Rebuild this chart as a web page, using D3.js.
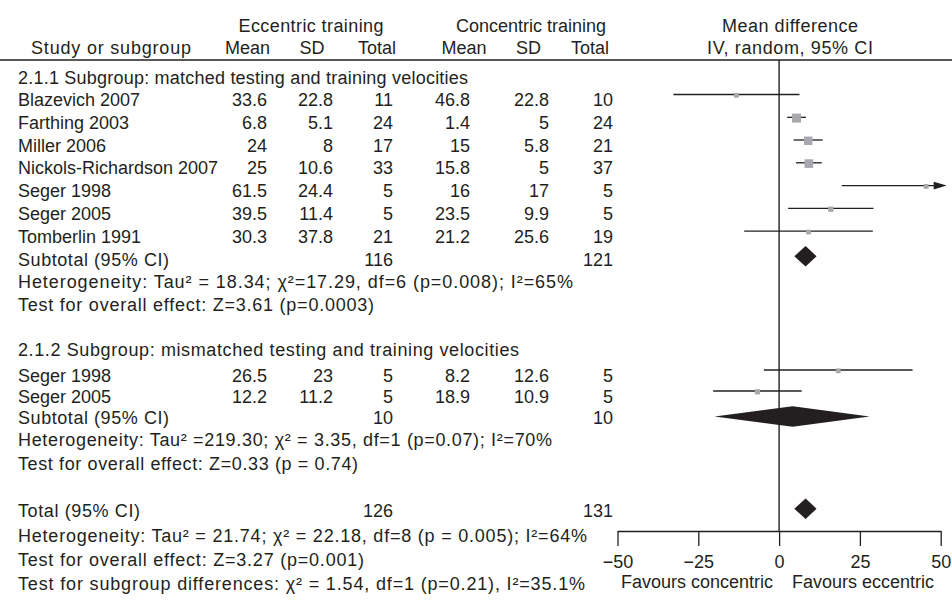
<!DOCTYPE html>
<html><head><meta charset="utf-8">
<script src="https://cdn.jsdelivr.net/npm/d3@7"></script>
<style>
html,body{margin:0;padding:0;background:#fff;}
svg{display:block;}
text{font-family:"Liberation Sans",Arial,Helvetica,sans-serif;fill:#231f20;}
</style></head><body>
<svg id="chart" width="952" height="608"></svg>
<script>
// ---------- DATA ----------
const groupTitles = ["2.1.1 Subgroup: matched testing and training velocities",
                     "2.1.2 Subgroup: mismatched testing and training velocities"];
const studyNames = ["Blazevich 2007","Farthing 2003","Miller 2006","Nickols-Richardson 2007",
                    "Seger 1998","Seger 2005","Tomberlin 1991","Seger 1998","Seger 2005"];
const studyGroup = [0,0,0,0,0,0,0,1,1];
const eccMean = [33.6,6.8,24,25,61.5,39.5,30.3,26.5,12.2];
const eccSD   = [22.8,5.1,8,10.6,24.4,11.4,37.8,23,11.2];
const eccN    = [11,24,17,33,5,5,21,5,5];
const conMean = [46.8,1.4,15,15.8,16,23.5,21.2,8.2,18.9];
const conSD   = [22.8,5,5.8,5,17,9.9,25.6,12.6,10.9];
const conN    = [10,24,21,37,5,5,19,5,5];
const meanDiff = [-13.2,5.4,9.0,9.2,45.5,16.0,9.1,18.3,-6.7];
const ciLow    = [-32.7,2.5,4.5,5.2,19.4,2.8,-10.8,-4.7,-20.4];
const ciHigh   = [6.3,8.3,13.5,13.2,71.6,29.2,29.0,41.3,7.0];
const weightPct = [4.7,24.1,21.2,22.2,2.9,8.5,4.6,3.6,8.1];

const subtotalEccN = [116,10];
const subtotalConN = [121,10];
const subtotalEst  = [8.2,4.2];
const subtotalLow  = [4.7,-20.0];
const subtotalHigh = [11.6,28.0];
const heterogeneityText = [
  "Heterogeneity: Tau\u00B2 = 18.34; \u03C7\u00B2=17.29, df=6 (p=0.008); I\u00B2=65%",
  "Heterogeneity: Tau\u00B2 =219.30; \u03C7\u00B2 = 3.35, df=1 (p=0.07); I\u00B2=70%"];
const overallText = [
  "Test for overall effect: Z=3.61 (p=0.0003)",
  "Test for overall effect: Z=0.33 (p = 0.74)"];

const totalEccN = 126, totalConN = 131;
const totalEst = 8.2, totalLow = 4.7, totalHigh = 11.6;
const totalHetText = "Heterogeneity: Tau\u00B2 = 21.74; \u03C7\u00B2 = 22.18, df=8 (p = 0.005); I\u00B2=64%";
const totalOverallText = "Test for overall effect: Z=3.27 (p=0.001)";
const subgroupDiffText = "Test for subgroup differences: \u03C7\u00B2 = 1.54, df=1 (p=0.21), I\u00B2=35.1%";

const axisTicks = [-50,-25,0,25,50];
const axisDomain = [-50,50];
const favourLabels = ["Favours concentric","Favours eccentric"];

// ---------- LAYOUT ----------
const FS = 18;
const rowKeys = ["h1","h2","g0","s0","s1","s2","s3","s4","s5","s6","sub0","het0","z0",
                 "g1","s7","s8","sub1","het1","z1","tot","het2","z2","diff"];
const rowPos  = [25,47,77,99.5,122.3,145,167.8,190.6,213.4,236.2,259,281.5,304,
                 349,375,396,417,439.5,463,510,535,559.5,583];
const yRow = d3.scaleOrdinal().domain(rowKeys).range(rowPos);
const base = k => yRow(k) + 6.5;

const x = d3.scaleLinear().domain(axisDomain).range([617.5, 940.7]);
const sizeScale = d3.scaleSqrt().domain([0, 24.1]).range([0, 9]);

const colX = {eM:267, eSD:333, eN:393, cM:470, cSD:549, cN:613};

const svg = d3.select("#chart");
const g = svg.append("g").style("font-size", FS + "px");

function txt(xp, key, s, anchor, len) {
  const t = g.append("text").attr("x", xp).attr("y", base(key))
    .attr("text-anchor", anchor || "start").text(s);
  if (len) t.attr("textLength", len).attr("lengthAdjust", "spacing");
  return t;
}

// Headers
txt(311, "h1", "Eccentric training", "middle", 145);
txt(531, "h1", "Concentric training", "middle", 150);
txt(790, "h1", "Mean difference", "middle", 136);
txt(31, "h2", "Study or subgroup", "start", 160);
txt(247.5, "h2", "Mean", "middle");
txt(312, "h2", "SD", "middle");
txt(377, "h2", "Total", "middle");
txt(464, "h2", "Mean", "middle");
txt(528.5, "h2", "SD", "middle");
txt(590, "h2", "Total", "middle");
txt(790, "h2", "IV, random, 95% CI", "middle", 166);

g.append("line").attr("x1", 0).attr("x2", 952).attr("y1", 60).attr("y2", 60)
  .attr("stroke", "#231f20").attr("stroke-width", 1.6);

// zero line
g.append("line").attr("x1", x(0)).attr("x2", x(0)).attr("y1", 60).attr("y2", 531)
  .attr("stroke", "#231f20").attr("stroke-width", 1.4);

// group titles
txt(18, "g0", groupTitles[0], "start", 450);
txt(18, "g1", groupTitles[1], "start", 501);

// study rows
studyNames.forEach((name, i) => {
  const k = "s" + i;
  txt(18, k, name);
  txt(colX.eM, k, String(eccMean[i]), "end");
  txt(colX.eSD, k, String(eccSD[i]), "end");
  txt(colX.eN, k, String(eccN[i]), "end");
  txt(colX.cM, k, String(conMean[i]), "end");
  txt(colX.cSD, k, String(conSD[i]), "end");
  txt(colX.cN, k, String(conN[i]), "end");

  const ym = yRow(k) - 5;
  const lo = Math.max(ciLow[i], axisDomain[0]);
  const hi = Math.min(ciHigh[i], axisDomain[1]);
  g.append("line").attr("x1", x(lo)).attr("x2", x(hi)).attr("y1", ym).attr("y2", ym)
    .attr("stroke", "#231f20").attr("stroke-width", 1.3);
  if (ciHigh[i] > axisDomain[1]) {
    const xe = x(axisDomain[1]);
    g.append("path").attr("d", `M${xe-7},${ym-3.8}L${xe+6},${ym}L${xe-7},${ym+3.8}Z`)
      .attr("fill", "#231f20");
  }
  const s = Math.max(4.8, sizeScale(weightPct[i]));
  const cx = Math.min(x(meanDiff[i]), x(axisDomain[1]) - 12);
  g.append("rect").attr("x", cx - s/2).attr("y", ym - s/2 + 0.8)
    .attr("width", s).attr("height", s).attr("fill", "#a7a9ac");
});

function diamond(lo, est, hi, yc) {
  const h = 10.3;
  g.append("path")
    .attr("d", `M${x(lo)},${yc}L${x(est)},${yc-h}L${x(hi)},${yc}L${x(est)},${yc+h}Z`)
    .attr("fill", "#231f20");
}

const hetLen = [555, 534], zLen = [356, 340], diamondShift = [-2.7, -0.5];
// subtotals
[0,1].forEach(j => {
  const k = "sub" + j;
  txt(18, k, "Subtotal (95% CI)", "start", 151);
  txt(colX.eN, k, String(subtotalEccN[j]), "end");
  txt(colX.cN, k, String(subtotalConN[j]), "end");
  diamond(subtotalLow[j], subtotalEst[j], subtotalHigh[j], yRow(k) + diamondShift[j]);
  txt(18, "het" + j, heterogeneityText[j], "start", hetLen[j]);
  txt(18, "z" + j, overallText[j], "start", zLen[j]);
});

// total
txt(18, "tot", "Total (95% CI)", "start", 122);
txt(colX.eN, "tot", String(totalEccN), "end");
txt(colX.cN, "tot", String(totalConN), "end");
diamond(totalLow, totalEst, totalHigh, yRow("tot") - 1.2);
txt(18, "het2", totalHetText, "start", 569);
txt(18, "z2", totalOverallText, "start", 346);
txt(18, "diff", subgroupDiffText, "start", 567);

// axis
const axis = d3.axisBottom(x).tickValues(axisTicks).tickSize(15).tickSizeOuter(0)
  .tickPadding(9).tickFormat(d3.format("d"));
const ag = svg.append("g").attr("transform", "translate(0,531)").call(axis);
ag.select(".domain").attr("stroke", "#231f20").attr("stroke-width", 1.3);
ag.selectAll(".tick line").attr("stroke", "#231f20").attr("stroke-width", 1.3);
ag.selectAll(".tick text").style("font-size", FS + "px")
  .style("font-family", '"Liberation Sans",Arial,sans-serif').attr("fill", "#231f20");

txt(697, "diff", favourLabels[0], "middle").attr("y", 588);
txt(863, "diff", favourLabels[1], "middle").attr("y", 588);
</script>
</body></html>
